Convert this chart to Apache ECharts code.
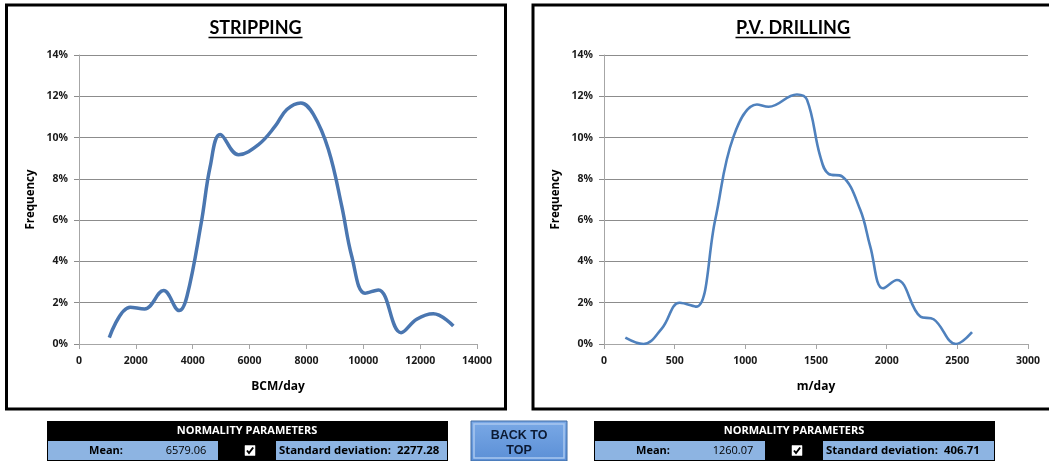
<!DOCTYPE html>
<html>
<head>
<meta charset="utf-8">
<title>Stripping and P.V. Drilling frequency</title>
<script src="https://cdn.jsdelivr.net/npm/echarts@6/dist/echarts.min.js"></script>
<style>
  html, body { margin: 0; padding: 0; background: #ffffff; }
  #chart { width: 1049px; height: 461px; }
</style>
</head>
<body>
<div id="chart"></div>
<script>
// Stripping production frequency (BCM/day vs % of days)
const strippingX = [1065, 1803, 2306, 2975, 3525, 3796, 4299, 4615, 4967, 5610, 6313, 6900, 7311, 7803, 8246, 8773, 9244, 9596, 10063, 10531, 11329, 11880, 12464, 13167];
const strippingY = [0.31, 1.78, 1.70, 2.59, 1.62, 2.30, 5.86, 8.60, 10.15, 9.17, 9.66, 10.55, 11.36, 11.68, 11.12, 9.42, 6.67, 4.24, 2.46, 2.62, 0.55, 1.20, 1.46, 0.87];

// P.V. drilling frequency (m/day vs % of days)
const drillingX = [151, 280, 410, 535, 653, 787, 917, 1082, 1165, 1365, 1436, 1530, 1589, 1684, 1813, 1884, 1974, 2073, 2238, 2332, 2490, 2604];
const drillingY = [0.31, 0.00, 0.76, 2.00, 1.81, 6.02, 10.06, 11.60, 11.49, 12.09, 11.84, 9.09, 8.24, 8.12, 6.50, 4.72, 2.70, 3.10, 1.33, 1.20, 0.00, 0.57];

// Axis ranges and tick steps
const freqTicks = [0, 2, 4, 6, 8, 10, 12, 14];
const strippingTicks = [0, 2000, 4000, 6000, 8000, 10000, 12000, 14000];
const drillingTicks = [0, 500, 1000, 1500, 2000, 2500, 3000];

// Normality parameters shown under each chart
const strippingMean = '6579.06';
const strippingStd = '2277.28';
const drillingMean = '1260.07';
const drillingStd = '406.71';

const FONT = 'Lato, "Open Sans", "Liberation Sans", sans-serif';
const TICK_FONT = '"Open Sans", Lato, "Liberation Sans", sans-serif';
const GRID_COLOR = '#8c8c8c';
const AXIS_COLOR = '#a6a6a6';
const LABEL_COLOR = '#1a1a1a';

function pairs(xs, ys) { return xs.map((x, i) => [x, ys[i]]); }

function xAxisDef(gridIndex, ticks, name) {
  return {
    type: 'value', gridIndex,
    min: ticks[0], max: ticks[ticks.length - 1], interval: ticks[1] - ticks[0],
    name, nameLocation: 'middle', nameGap: 37,
    nameTextStyle: { fontFamily: TICK_FONT, fontWeight: 'bold', fontSize: 12, color: '#000' },
    axisLine: { show: true, lineStyle: { color: AXIS_COLOR, width: 1 } },
    axisTick: { show: true, length: 5, lineStyle: { color: AXIS_COLOR } },
    axisLabel: { fontFamily: TICK_FONT, fontWeight: 'bold', fontSize: 10.5, color: LABEL_COLOR, margin: 12,
                 formatter: v => String(v) },
    splitLine: { show: false }
  };
}

function yAxisDef(gridIndex) {
  return {
    type: 'value', gridIndex,
    min: freqTicks[0], max: freqTicks[freqTicks.length - 1], interval: freqTicks[1] - freqTicks[0],
    name: 'Frequency', nameLocation: 'middle', nameGap: 42,
    nameTextStyle: { fontFamily: TICK_FONT, fontWeight: 'bold', fontSize: 11.5, color: '#000' },
    axisLine: { show: true, lineStyle: { color: AXIS_COLOR, width: 1 } },
    axisTick: { show: true, length: 5, lineStyle: { color: GRID_COLOR } },
    axisLabel: { fontFamily: TICK_FONT, fontWeight: 'bold', fontSize: 10.5, color: LABEL_COLOR, margin: 11, formatter: '{value}%' },
    splitLine: { show: true, lineStyle: { color: GRID_COLOR, width: 1 } }
  };
}

// Chart frame, title and underline
function panelFrame(x, w, title, cx, ulHalf) {
  return [
    { type: 'rect', shape: { x, y: 5, width: w, height: 404 }, style: { fill: 'none', stroke: '#000', lineWidth: 3 }, z: 1 },
    { type: 'text', x: cx, y: 28, style: { text: title, font: 'bold 18px ' + FONT, fill: '#000', align: 'center', verticalAlign: 'middle' }, z: 5 },
    { type: 'line', shape: { x1: cx - ulHalf, y1: 37.5, x2: cx + ulHalf, y2: 37.5 }, style: { stroke: '#000', lineWidth: 1.5 }, z: 5 }
  ];
}

// Normality parameters table
function paramTable(left, mean, std) {
  const els = [];
  els.push({ type: 'rect', shape: { x: left, y: 421, width: 401, height: 40 }, style: { fill: '#000' }, z: 5 });
  els.push({ type: 'text', x: left + 200, y: 431, style: { text: 'NORMALITY PARAMETERS', font: 'bold 11px ' + TICK_FONT, fill: '#fff', align: 'center', verticalAlign: 'middle' }, z: 6 });
  els.push({ type: 'rect', shape: { x: left + 1, y: 441, width: 170, height: 19 }, style: { fill: '#8db4e2' }, z: 6 });
  els.push({ type: 'rect', shape: { x: left + 229, y: 441, width: 171, height: 19 }, style: { fill: '#8db4e2' }, z: 6 });
  els.push({ type: 'text', x: left + 59, y: 451, style: { text: 'Mean:', font: 'bold 11px ' + TICK_FONT, fill: '#000', align: 'center', verticalAlign: 'middle' }, z: 7 });
  els.push({ type: 'text', x: left + 139, y: 451, style: { text: mean, font: '11px ' + TICK_FONT, fill: '#000', align: 'center', verticalAlign: 'middle' }, z: 7 });
  els.push({ type: 'text', x: left + 232, y: 451, style: { text: 'Standard deviation:  ' + std, font: 'bold 11.4px ' + TICK_FONT, fill: '#000', align: 'left', verticalAlign: 'middle' }, z: 7 });
  // checkbox
  const cx = left + 203, cy = 450.5;
  els.push({ type: 'rect', shape: { x: cx - 5, y: cy - 5, width: 10, height: 10 }, style: { fill: '#fff', stroke: '#fff', lineWidth: 0.5 }, z: 7 });
  els.push({ type: 'polyline', shape: { points: [[cx - 3, cy], [cx - 1, cy + 2.5], [cx + 3.2, cy - 3]] }, style: { stroke: '#000', lineWidth: 2, fill: 'none' }, z: 8 });
  return els;
}

// "BACK TO TOP" button
function backButton() {
  return [
    { type: 'rect', shape: { x: 471, y: 421, width: 96, height: 40 },
      style: { fill: new echarts.graphic.LinearGradient(0, 0, 0, 1, [{ offset: 0, color: '#7aa9e6' }, { offset: 1, color: '#5b8fd6' }]), stroke: '#3f6aa3', lineWidth: 1 }, z: 5 },
    { type: 'rect', shape: { x: 474, y: 424, width: 90, height: 34 },
      style: { fill: 'none', stroke: '#a9c8f0', lineWidth: 1.5 }, z: 6 },
    { type: 'text', x: 519, y: 435.5, style: { text: 'BACK TO', font: 'bold 12.5px "Liberation Sans", Arial, sans-serif', fill: '#0c1a33', align: 'center', verticalAlign: 'middle' }, z: 7 },
    { type: 'text', x: 519, y: 450.5, style: { text: 'TOP', font: 'bold 12.5px "Liberation Sans", Arial, sans-serif', fill: '#0c1a33', align: 'center', verticalAlign: 'middle' }, z: 7 }
  ];
}

const chart = echarts.init(document.getElementById('chart'), null, { renderer: 'canvas' });

chart.setOption({
  backgroundColor: '#ffffff',
  animation: false,
  grid: [
    { left: 79, top: 55, width: 398, height: 289 },
    { left: 604, top: 55, width: 424, height: 289 }
  ],
  xAxis: [
    xAxisDef(0, strippingTicks, 'BCM/day'),
    xAxisDef(1, drillingTicks, 'm/day')
  ],
  yAxis: [yAxisDef(0), yAxisDef(1)],
  series: [
    {
      name: 'STRIPPING', type: 'line', xAxisIndex: 0, yAxisIndex: 0,
      data: pairs(strippingX, strippingY), smooth: 0.4, showSymbol: false,
      lineStyle: { color: '#4a76b0', width: 3.5 }
    },
    {
      name: 'P.V. DRILLING', type: 'line', xAxisIndex: 1, yAxisIndex: 1,
      data: pairs(drillingX, drillingY), smooth: 0.4, showSymbol: false,
      lineStyle: { color: '#4f81bd', width: 2.6 }
    }
  ],
  graphic: [].concat(
    panelFrame(6.5, 499, 'STRIPPING', 255.5, 47),
    panelFrame(533, 525, 'P.V. DRILLING', 793, 57.5),
    paramTable(47, strippingMean, strippingStd),
    paramTable(594, drillingMean, drillingStd),
    backButton()
  )
});
</script>
</body>
</html>
